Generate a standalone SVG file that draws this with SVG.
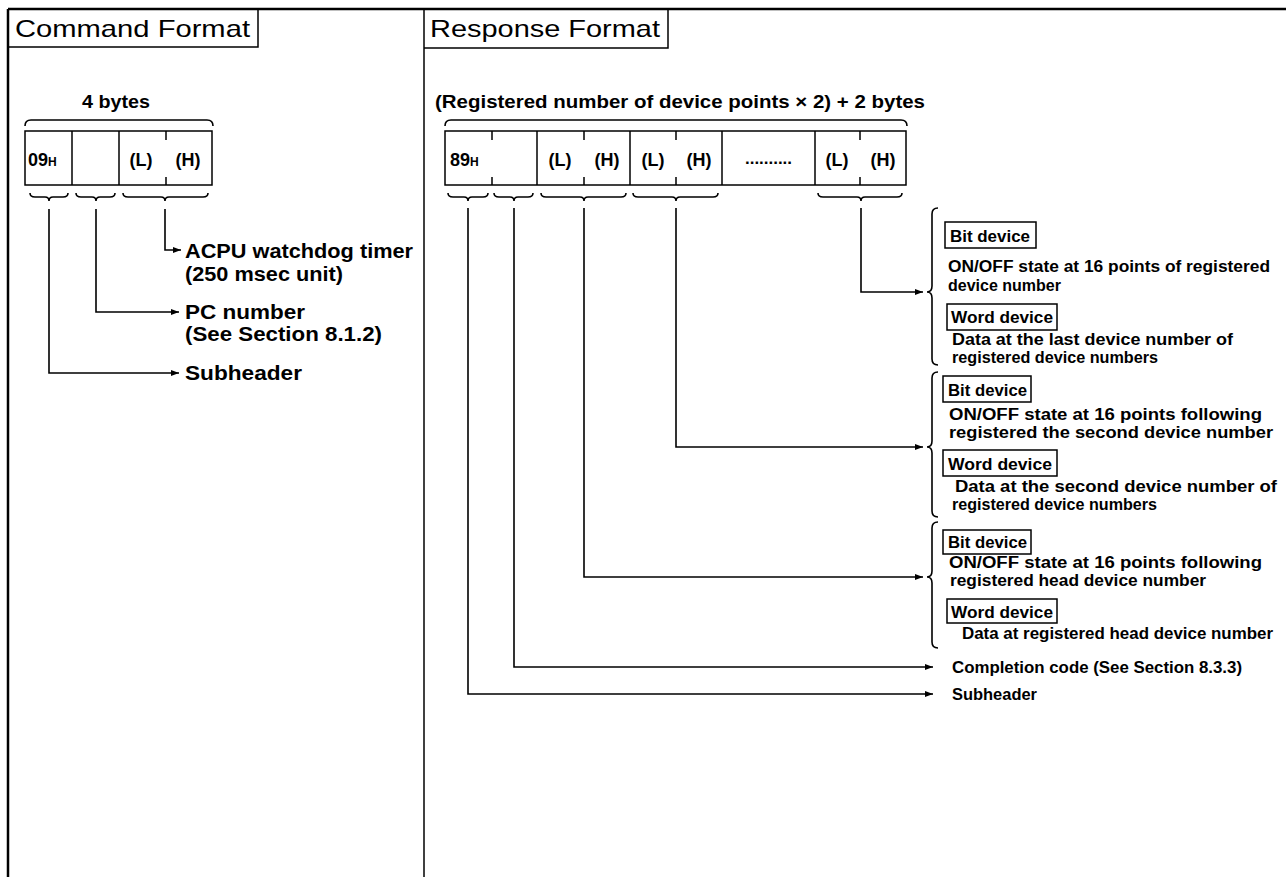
<svg xmlns="http://www.w3.org/2000/svg" width="1286" height="877" viewBox="0 0 1286 877">
<style>
.frame{stroke:#000;stroke-width:2.5;fill:none}
.thin{stroke:#000;stroke-width:1.5;fill:none}
.cell{stroke:#000;stroke-width:1.5;fill:#fff}
.brace{stroke:#000;stroke-width:1.6;fill:none}
.conn{stroke:#000;stroke-width:1.6;fill:none}
.hdr{font-family:"Liberation Sans",Arial,sans-serif;font-size:24px;fill:#000}
.b18{font-family:"Liberation Sans",Arial,sans-serif;font-size:18px;font-weight:bold;fill:#000}
.b20{font-family:"Liberation Sans",Arial,sans-serif;font-size:20px;font-weight:bold;fill:#000}
.b16{font-family:"Liberation Sans",Arial,sans-serif;font-size:16px;font-weight:bold;fill:#000}
.sub{font-family:"Liberation Sans",Arial,sans-serif;font-size:12px;font-weight:bold;fill:#000}
.tag{stroke:#000;stroke-width:1.5;fill:#fff}
</style>
<defs>
<marker id="arr" markerUnits="userSpaceOnUse" markerWidth="8" markerHeight="6" refX="8" refY="3" orient="auto">
<path d="M0,0 L8,3 L0,6 z" fill="#000"/>
</marker>
</defs>
<rect width="1286" height="877" fill="#fff"/>
<g id="frame">
<line class="frame" x1="8" y1="9" x2="1286" y2="9"/>
<line class="frame" x1="8" y1="9" x2="8" y2="877"/>
<line class="thin" x1="424" y1="9" x2="424" y2="877"/>
</g>
<g id="command-header">
<path class="thin" d="M8,47 H258 V9"/>
<text class="hdr" x="15" y="37" textLength="235" lengthAdjust="spacingAndGlyphs">Command Format</text>
</g>
<g id="response-header">
<path class="thin" d="M424,48 H668 V9"/>
<text class="hdr" x="430" y="37" textLength="230" lengthAdjust="spacingAndGlyphs">Response Format</text>
</g>
<g id="command-frame">
<text class="b18" x="82" y="108" textLength="68" lengthAdjust="spacingAndGlyphs">4 bytes</text>
<path class="brace" d="M25,126 Q25,120 31,120 L207,120 Q213,120 213,126"/>
<rect class="cell" x="25" y="131" width="187" height="54"/>
<line class="thin" x1="72" y1="131" x2="72" y2="185"/>
<line class="thin" x1="119" y1="131" x2="119" y2="185"/>
<line class="thin" x1="166" y1="131" x2="166" y2="140"/>
<line class="thin" x1="166" y1="177" x2="166" y2="185"/>
<text class="b18" x="28" y="166">09<tspan class="sub">H</tspan></text>
<text class="b18" x="141" y="166" text-anchor="middle">(L)</text>
<text class="b18" x="188" y="166" text-anchor="middle">(H)</text>
<path class="brace" d="M30,193 Q30,197 35,197 L45,197 Q49,197 49,201 Q49,197 53,197 L63,197 Q68,197 68,193"/>
<path class="brace" d="M76,193 Q76,197 81,197 L92,197 Q96,197 96,201 Q96,197 100,197 L110,197 Q115,197 115,193"/>
<path class="brace" d="M123,193 Q123,197 128,197 L161,197 Q165,197 165,201 Q165,197 169,197 L203,197 Q208,197 208,193"/>
</g>
<g id="cmd-acpu">
<text class="b20" x="185" y="258" textLength="228" lengthAdjust="spacingAndGlyphs">ACPU watchdog timer</text>
<text class="b20" x="185" y="281" textLength="158" lengthAdjust="spacingAndGlyphs">(250 msec unit)</text>
</g>
<g id="cmd-pc">
<text class="b20" x="185" y="319" textLength="120" lengthAdjust="spacingAndGlyphs">PC number</text>
<text class="b20" x="185" y="341" textLength="197" lengthAdjust="spacingAndGlyphs">(See Section 8.1.2)</text>
</g>
<g id="cmd-subheader">
<text class="b20" x="185" y="380" textLength="117" lengthAdjust="spacingAndGlyphs">Subheader</text>
</g>
<g id="response-frame">
<text class="b18" x="435" y="108" textLength="490" lengthAdjust="spacingAndGlyphs">(Registered number of device points × 2) + 2 bytes</text>
<path class="brace" d="M445,126 Q445,120 451,120 L901,120 Q907,120 907,126"/>
<rect class="cell" x="445" y="131" width="461" height="54"/>
<line class="thin" x1="537" y1="131" x2="537" y2="185"/>
<line class="thin" x1="630" y1="131" x2="630" y2="185"/>
<line class="thin" x1="722" y1="131" x2="722" y2="185"/>
<line class="thin" x1="815" y1="131" x2="815" y2="185"/>
<path class="thin" d="M492,131 V140 M492,177 V185 M584,131 V140 M584,177 V185 M676,131 V140 M676,177 V185 M860,131 V140 M860,177 V185"/>
<text class="b18" x="450" y="166">89<tspan class="sub">H</tspan></text>
<text class="b18" x="560" y="166" text-anchor="middle">(L)</text>
<text class="b18" x="607" y="166" text-anchor="middle">(H)</text>
<text class="b18" x="653" y="166" text-anchor="middle">(L)</text>
<text class="b18" x="699" y="166" text-anchor="middle">(H)</text>
<text class="b16" x="745" y="164" textLength="47" lengthAdjust="spacingAndGlyphs">..........</text>
<text class="b18" x="837" y="166" text-anchor="middle">(L)</text>
<text class="b18" x="883" y="166" text-anchor="middle">(H)</text>
<path class="brace" d="M448,193 Q448,197 453,197 L464,197 Q468,197 468,201 Q468,197 472,197 L483,197 Q488,197 488,193"/>
<path class="brace" d="M494,193 Q494,197 499,197 L510,197 Q514,197 514,201 Q514,197 518,197 L528,197 Q533,197 533,193"/>
<path class="brace" d="M541,193 Q541,197 546,197 L580,197 Q584,197 584,201 Q584,197 588,197 L621,197 Q626,197 626,193"/>
<path class="brace" d="M633,193 Q633,197 638,197 L672,197 Q676,197 676,201 Q676,197 680,197 L713,197 Q718,197 718,193"/>
<path class="brace" d="M818,193 Q818,197 823,197 L857,197 Q861,197 861,201 Q861,197 865,197 L897,197 Q902,197 902,193"/>
</g>
<g id="resp-last">
<path class="brace" d="M938,208 Q932,208 932,214 L932,286 Q932,292 927,292 Q932,292 932,298 L932,359 Q932,365 938,365"/>
<rect class="tag" x="945" y="222" width="91" height="26"/>
<text class="b16" x="950" y="242" textLength="80" lengthAdjust="spacingAndGlyphs">Bit device</text>
<text class="b16" x="948" y="272" textLength="322" lengthAdjust="spacingAndGlyphs">ON/OFF state at 16 points of registered</text>
<text class="b16" x="948" y="291">device number</text>
<rect class="tag" x="947" y="304" width="110" height="26"/>
<text class="b16" x="951" y="323" textLength="102" lengthAdjust="spacingAndGlyphs">Word device</text>
<text class="b16" x="952" y="345" textLength="281" lengthAdjust="spacingAndGlyphs">Data at the last device number of</text>
<text class="b16" x="952" y="363" textLength="206" lengthAdjust="spacingAndGlyphs">registered device numbers</text>
</g>
<g id="resp-second">
<path class="brace" d="M938,372 Q932,372 932,378 L932,441 Q932,447 927,447 Q932,447 932,453 L932,511 Q932,517 938,517"/>
<rect class="tag" x="943" y="376" width="88" height="26"/>
<text class="b16" x="948" y="396" textLength="79" lengthAdjust="spacingAndGlyphs">Bit device</text>
<text class="b16" x="949" y="420" textLength="313" lengthAdjust="spacingAndGlyphs">ON/OFF state at 16 points following</text>
<text class="b16" x="949" y="438" textLength="324" lengthAdjust="spacingAndGlyphs">registered the second device number</text>
<rect class="tag" x="943" y="450" width="114" height="26"/>
<text class="b16" x="948" y="470" textLength="104" lengthAdjust="spacingAndGlyphs">Word device</text>
<text class="b16" x="955" y="492" textLength="322" lengthAdjust="spacingAndGlyphs">Data at the second device number of</text>
<text class="b16" x="952" y="510" textLength="205" lengthAdjust="spacingAndGlyphs">registered device numbers</text>
</g>
<g id="resp-head">
<path class="brace" d="M938,522 Q932,522 932,528 L932,571 Q932,577 927,577 Q932,577 932,583 L932,642 Q932,648 938,648"/>
<rect class="tag" x="943" y="530" width="88" height="24"/>
<text class="b16" x="948" y="548" textLength="79" lengthAdjust="spacingAndGlyphs">Bit device</text>
<text class="b16" x="949" y="568" textLength="313" lengthAdjust="spacingAndGlyphs">ON/OFF state at 16 points following</text>
<text class="b16" x="950" y="586" textLength="256" lengthAdjust="spacingAndGlyphs">registered head device number</text>
<rect class="tag" x="947" y="599" width="110" height="24"/>
<text class="b16" x="951" y="618" textLength="102" lengthAdjust="spacingAndGlyphs">Word device</text>
<text class="b16" x="962" y="639" textLength="311" lengthAdjust="spacingAndGlyphs">Data at registered head device number</text>
</g>
<g id="resp-completion">
<text class="b16" x="952" y="673" textLength="290" lengthAdjust="spacingAndGlyphs">Completion code (See Section 8.3.3)</text>
</g>
<g id="resp-subheader">
<text class="b16" x="952" y="700" textLength="85" lengthAdjust="spacingAndGlyphs">Subheader</text>
</g>
<g id="connectors">
<path class="conn" d="M165,209 V250 H181" marker-end="url(#arr)"/>
<path class="conn" d="M96,209 V312 H179" marker-end="url(#arr)"/>
<path class="conn" d="M49,209 V373 H179" marker-end="url(#arr)"/>
<path class="conn" d="M861,208 V292 H923" marker-end="url(#arr)"/>
<path class="conn" d="M676,208 V447 H923" marker-end="url(#arr)"/>
<path class="conn" d="M584,208 V577 H923" marker-end="url(#arr)"/>
<path class="conn" d="M514,208 V667 H933" marker-end="url(#arr)"/>
<path class="conn" d="M468,208 V694 H933" marker-end="url(#arr)"/>
</g>
</svg>
